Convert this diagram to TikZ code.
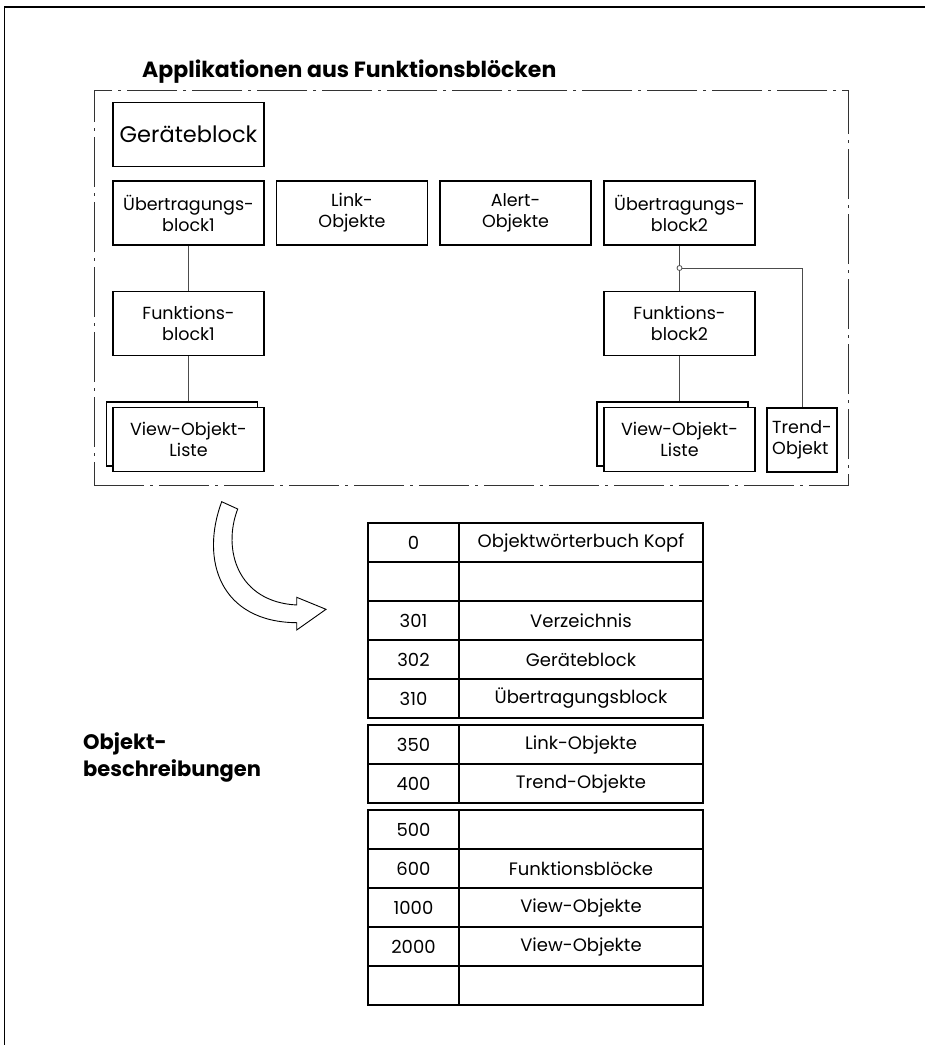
\documentclass[tikz,border=0pt]{standalone}
\usepackage{fontspec}
\setmainfont{Poppins}
\usetikzlibrary{positioning}
\tikzset{block/.style={rectangle,draw=black,line width=1.2pt,fill=white,minimum width=151pt,minimum height=64pt,inner sep=0pt,align=center,font=\fontsize{17.5}{21}\selectfont}}
\tikzset{wire/.style={draw=black!70,line width=0.8pt}}
\tikzset{cell/.style={rectangle,draw=black,line width=1.1pt,minimum height=39pt,inner sep=0pt,outer sep=0pt,font=\fontsize{18}{21}\selectfont}}
\tikzset{numcell/.style={cell,minimum width=91pt}}
\tikzset{textcell/.style={cell,minimum width=244pt}}
\tikzset{heading/.style={font=\bfseries\fontsize{21}{27}\selectfont,inner sep=0pt}}

\begin{document}
\begin{tikzpicture}[x=1pt,y=-1pt]
  \useasboundingbox (0,0) rectangle (925,1045);
  \draw[line width=1.2pt] (4.5,1045) -- (4.5,7) -- (925,7);

  % applications
  \node [heading,font=\bfseries\fontsize{22}{27}\selectfont,anchor=base west] (title) at (142,77) {Applikationen aus Funktionsbl\"ocken};
  \node [rectangle,draw=black!80,line width=0.8pt,dash pattern=on 50pt off 6pt on 3pt off 6pt,
         minimum width=754pt,minimum height=395pt] (apps) at (471,287.5) {};

  \node [block,font=\fontsize{22.5}{26}\selectfont] (GB) at (188.5,134.5) {Ger\"ateblock};
  \node [block] (UB1) at (188.5,213) {\"Ubertragungs-\\block1};
  \node [block] (LO) at (352,213) {Link-\\Objekte};
  \node [block] (AO) at (515.5,213) {Alert-\\Objekte};
  \node [block] (UB2) at (679.5,213) {\"Ubertragungs-\\block2};
  \node [block] (FB1) at (188.5,323.5) {Funktions-\\block1};
  \node [block] (FB2) at (679.5,323.5) {Funktions-\\block2};
  \node [block] (VL1b) at (182,434) {};
  \node [block] (VL1) at (188.5,439.5) {View-Objekt-\\Liste};
  \node [block] (VL2b) at (672.5,434) {};
  \node [block] (VL2) at (679.5,439.5) {View-Objekt-\\Liste};
  \node [block,minimum width=70pt,align=left] (TO) at (802,440) {Trend-\\Objekt};

  \path [wire] (UB1) -- (FB1);
  \path [wire] (FB1.south) -- (FB1.south |- VL1b.north);
  \path [wire] (FB2.south) -- (FB2.south |- VL2b.north);
  \coordinate (J) at (679.5,268);
  \path [wire] (UB2) -- (J) -- (FB2);
  \path [wire] (J) -- (J -| TO) -- (TO);
  \node [circle,draw=black!70,line width=0.8pt,fill=white,inner sep=0pt,minimum size=5pt] at (J) {};

  % big arrow
  \draw [line width=0.9pt,fill=white] (221.7,501.7) .. controls (200,560) and (220,622) .. (296.7,622.7)
    -- (296.7,630) -- (326,609.3) -- (296.7,597.3) -- (296.7,605)
    .. controls (238,602) and (222,550) .. (237.7,509) -- cycle;

  % object dictionary
  \node [heading,anchor=west,align=left] (OB) at (83,757) {Objekt-\\beschreibungen};

  \node [numcell] (N0) at (413.5,542.5) {0};
  \node [numcell,below=0pt of N0] (N1) {};
  \node [numcell,below=0pt of N1] (N301) {301};
  \node [numcell,below=0pt of N301] (N302) {302};
  \node [numcell,below=0pt of N302] (N310) {310};
  \node [numcell,below=7pt of N310] (N350) {350};
  \node [numcell,below=0pt of N350] (N400) {400};
  \node [numcell,below=7pt of N400] (N500) {500};
  \node [numcell,below=0pt of N500] (N600) {600};
  \node [numcell,below=0pt of N600] (N1000) {1000};
  \node [numcell,below=0pt of N1000] (N2000) {2000};
  \node [numcell,below=0pt of N2000] (N9) {};

  \node [textcell,right=0pt of N0] (T0) {Objektw\"orterbuch Kopf};
  \node [textcell,right=0pt of N1] (T1) {};
  \node [textcell,right=0pt of N301] (T301) {Verzeichnis};
  \node [textcell,right=0pt of N302] (T302) {Ger\"ateblock};
  \node [textcell,right=0pt of N310] (T310) {\"Ubertragungsblock};
  \node [textcell,right=0pt of N350] (T350) {Link-Objekte};
  \node [textcell,right=0pt of N400] (T400) {Trend-Objekte};
  \node [textcell,right=0pt of N500] (T500) {};
  \node [textcell,right=0pt of N600] (T600) {Funktionsbl\"ocke};
  \node [textcell,right=0pt of N1000] (T1000) {View-Objekte};
  \node [textcell,right=0pt of N2000] (T2000) {View-Objekte};
  \node [textcell,right=0pt of N9] (T9) {};
\end{tikzpicture}
\end{document}
